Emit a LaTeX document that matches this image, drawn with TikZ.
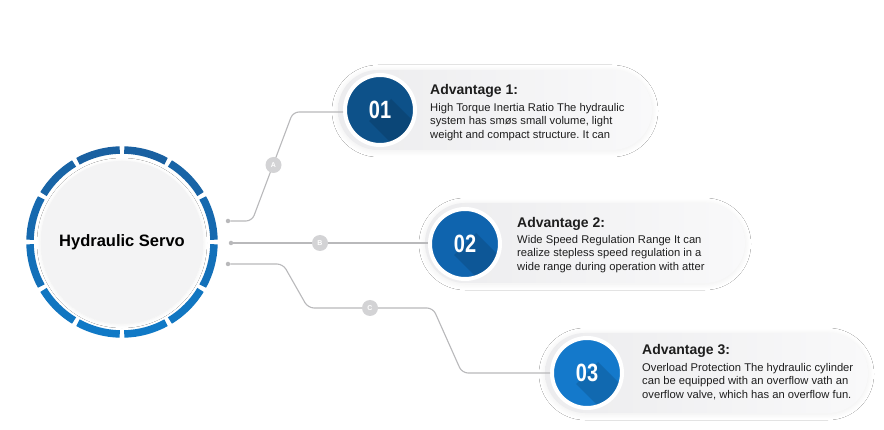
\documentclass[tikz,border=0pt]{standalone}
\usepackage{fontspec}
\setmainfont{Liberation Sans}
\usetikzlibrary{calc,shapes.misc,shadows.blur}
\definecolor{ringA}{HTML}{1A5E9E}
\definecolor{ringB}{HTML}{0F7BC9}
\definecolor{hubfill}{HTML}{F3F3F4}
\definecolor{pillL}{HTML}{ECECEE}
\definecolor{pillR}{HTML}{F9F9FA}
\definecolor{cOne}{HTML}{0D5189}
\definecolor{cTwo}{HTML}{0F64AE}
\definecolor{cThree}{HTML}{1479CB}
\definecolor{wire}{HTML}{B9B9BB}
\definecolor{tagfill}{HTML}{D3D3D5}
\definecolor{txt}{HTML}{1E1E1E}
\tikzset{
  pill/.style={rounded rectangle, minimum height=80pt, inner sep=0pt,
    left color=pillL, right color=pillR, draw=none,
    blur shadow={shadow blur steps=10, shadow xshift=0pt, shadow yshift=-1pt, shadow opacity=7, shadow blur radius=6pt}},
  numc/.style={circle, minimum size=70pt, inner sep=0pt, draw=white, line width=4pt,
    text=white, font=\bfseries\fontsize{25}{25}\selectfont,
    path picture={\fill[black, opacity=0.13]
      ($(path picture bounding box.center)+(11,-11)$) --
      ($(path picture bounding box.center)+(-11,11)$) --
      ($(path picture bounding box.center)+(40,62)$) --
      ($(path picture bounding box.center)+(62,40)$) -- cycle;}},
  wireline/.style={draw=wire, line width=1.1pt, rounded corners=6pt},
  tag/.style={circle, fill=tagfill, minimum size=16pt, inner sep=0pt, text=white,
    font=\bfseries\fontsize{7}{7}\selectfont},
  dot/.style={circle, fill=wire, minimum size=4.5pt, inner sep=0pt},
  title/.style={anchor=base west, inner sep=0pt, text=txt, font=\bfseries\fontsize{14}{15}\selectfont},
  body/.style={anchor=north west, inner sep=0pt, align=left, text=txt, font=\fontsize{11.2}{13.4}\selectfont}
}
\frenchspacing
\begin{document}
\begin{tikzpicture}[x=1pt,y=-1pt]
\useasboundingbox[fill=white] (0,0) rectangle (884,430);

% hub
\node[circle, minimum size=162pt, inner sep=0pt, fill=hubfill,
  blur shadow={shadow blur steps=8, shadow xshift=0pt, shadow yshift=-1pt, shadow opacity=8, shadow blur radius=4pt},
  text=black, font=\bfseries\fontsize{16.5}{18}\selectfont] (hub) at (122,242) {Hydraulic Servo};
\foreach \i in {0,...,11}{
  \pgfmathsetmacro{\a}{\i*30+1.4}
  \pgfmathsetmacro{\b}{\i*30+28.6}
  \pgfmathsetmacro{\m}{int(50+45*sin(\i*30+15))}
  \draw[line width=7.5pt, color=ringA!\m!ringB] ($(hub.center)+(\a:92pt)$) arc[start angle=\a, end angle=\b, radius=92pt];
}

% pills
\node[pill, minimum width=314pt] (p1) at (495,110) {};
\node[pill, minimum width=320pt] (p2) at (585,243) {};
\node[pill, minimum width=323pt] (p3) at (706.5,373) {};

% number circles
\node[numc, fill=cOne] (n1) at (380,110) {\scalebox{0.8}[1]{01}};
\node[numc, fill=cTwo] (n2) at (465,244) {\scalebox{0.8}[1]{02}};
\node[numc, fill=cThree] (n3) at (587,373) {\scalebox{0.8}[1]{03}};

% dots
\node[dot] (dA) at (228,221) {};
\node[dot] (dB) at (231,243) {};
\node[dot] (dC) at (228,264) {};

% bends
\coordinate (a1) at (252,221);
\coordinate (a2) at (293,112);
\coordinate (c1) at (283,264);
\coordinate (c2) at (308,308);
\coordinate (c3) at (433,308);
\coordinate (c4) at (462,373);

\path[wireline] (dA) -- (a1) -- (a2) -- (a2 -| n1.west);
\path[wireline] (dB) -- (dB -| n2.west);
\path[wireline] (dC) -- (c1) -- (c2) -- (c3) -- (c4) -- (n3.west);

% tags
\node[tag] (tA) at (273.5,165) {A};
\node[tag] (tB) at (320,243) {B};
\node[tag] (tC) at (370,308) {C};

% texts
\node[title] (t1) at (430,95) {Advantage 1:};
\node[body] (b1) at (430,103) {High Torque Inertia Ratio The hydraulic\\system has smøs small volume, light\\weight and compact structure. It can};
\node[title] (t2) at (517,228) {Advantage 2:};
\node[body] (b2) at (517,235) {Wide Speed Regulation Range It can\\realize stepless speed regulation in a\\wide range during operation with atter};
\node[title] (t3) at (642,355) {Advantage 3:};
\node[body] (b3) at (642,363) {Overload Protection The hydraulic cylinder\\can be equipped with an overflow vath an\\overflow valve, which has an overflow fun.};
\end{tikzpicture}
\end{document}
